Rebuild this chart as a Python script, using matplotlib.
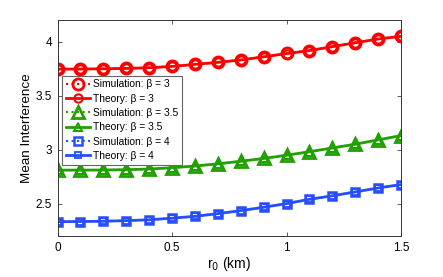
import numpy as np
import matplotlib
matplotlib.use("Agg")
import matplotlib.pyplot as plt

plt.rcParams['font.family'] = ['Liberation Sans', 'DejaVu Sans']

## datos
r0 = np.round(np.arange(0, 1.51, 0.1), 1)

sim_b3 = [3.745, 3.746, 3.748, 3.752, 3.758, 3.770, 3.790, 3.808, 3.830, 3.860,
          3.890, 3.917, 3.954, 3.990, 4.025, 4.050]
teo_b3 = [3.745, 3.746, 3.748, 3.752, 3.758, 3.770, 3.789, 3.808, 3.830, 3.859,
          3.889, 3.917, 3.953, 3.989, 4.024, 4.049]
sim_b35 = [2.810, 2.810, 2.811, 2.814, 2.820, 2.832, 2.848, 2.868, 2.892, 2.918,
           2.948, 2.980, 3.015, 3.050, 3.090, 3.130]
teo_b35 = [2.810, 2.810, 2.811, 2.814, 2.820, 2.832, 2.848, 2.868, 2.892, 2.918,
           2.948, 2.980, 3.015, 3.050, 3.090, 3.130]
sim_b4 = [2.333, 2.334, 2.337, 2.342, 2.350, 2.365, 2.382, 2.407, 2.435, 2.466,
          2.500, 2.540, 2.572, 2.608, 2.645, 2.676]
teo_b4 = [2.333, 2.334, 2.337, 2.342, 2.350, 2.365, 2.382, 2.407, 2.435, 2.466,
          2.500, 2.540, 2.572, 2.608, 2.645, 2.676]

rojo = (1, 0, 0)
verde = (0.13, 0.63, 0.0)
azul = (0.15, 0.3, 1.0)

fig = plt.figure(figsize=(4.43, 2.77), dpi=100)
ax = fig.add_axes([57.5 / 443, 1 - 236 / 277, (401 - 57.5) / 443, (236 - 20) / 277])

ax.plot(r0, sim_b3, ':', color=rojo, marker='o', ms=8, mew=2, mfc='none', lw=1.5,
        label='Simulation: β = 3')
ax.plot(r0, teo_b3, '-', color=rojo, marker='o', ms=6, mew=1.5, mfc='none', lw=2,
        label='Theory: β = 3')
ax.plot(r0, sim_b35, ':', color=verde, marker='^', ms=8, mew=2, mfc='none', lw=1.5,
        label='Simulation: β = 3.5')
ax.plot(r0, teo_b35, '-', color=verde, marker='^', ms=6, mew=1.5, mfc='none', lw=2,
        label='Theory: β = 3.5')
ax.plot(r0, sim_b4, ':', color=azul, marker='s', ms=6, mew=1.8, mfc='none', lw=1.5,
        label='Simulation: β = 4')
ax.plot(r0, teo_b4, '-', color=azul, marker='s', ms=5, mew=1.3, mfc='none', lw=2,
        label='Theory: β = 4')

ax.set_xlim(0, 1.5)
ax.set_ylim(2.2, 4.2)
ax.set_xticks([0, 0.5, 1, 1.5])
ax.set_xticklabels(['0', '0.5', '1', '1.5'])
ax.set_yticks([2.5, 3, 3.5, 4])
ax.set_yticklabels(['2.5', '3', '3.5', '4'])
ax.tick_params(direction='in', top=True, right=True, labelsize=8.5, length=3,
               width=0.6, color='#444444', pad=4)
for s in ax.spines.values():
    s.set_linewidth(0.7)
    s.set_color('#333333')

ax.set_xlabel(r'r$_0$ (km)', fontsize=10, labelpad=1)
ax.set_ylabel('Mean Interference', fontsize=9.7, labelpad=2)

leg = ax.legend(loc='upper left', bbox_to_anchor=(0.013, 0.742), fontsize=7.4,
                frameon=True, fancybox=False, framealpha=1, borderpad=0.35,
                labelspacing=0.42, handlelength=2.4, handletextpad=0.3,
                borderaxespad=0)
leg.get_frame().set_edgecolor('#666666')
leg.get_frame().set_linewidth(0.8)

fig.savefig('out.png', dpi=100)
